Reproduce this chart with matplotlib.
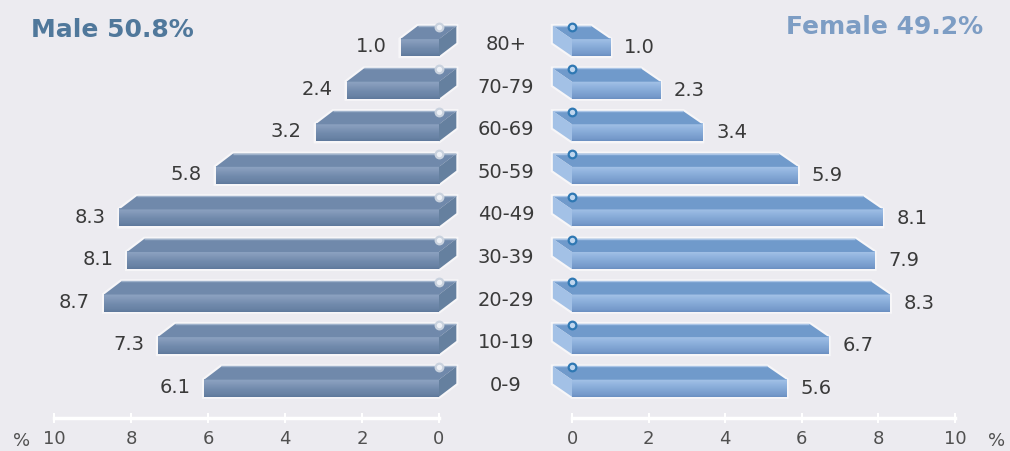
import matplotlib
matplotlib.use("Agg")
import matplotlib.pyplot as plt
import numpy as np
from matplotlib.patches import Polygon
from matplotlib.colors import LinearSegmentedColormap

# Population by age group, percent of total
age_groups = ["0-9", "10-19", "20-29", "30-39", "40-49", "50-59", "60-69", "70-79", "80+"]
male = [6.1, 7.3, 8.7, 8.1, 8.3, 5.8, 3.2, 2.4, 1.0]
female = [5.6, 6.7, 8.3, 7.9, 8.1, 5.9, 3.4, 2.3, 1.0]
ticks = [0, 2, 4, 6, 8, 10]
male_title = "Male 50.8%"
female_title = "Female 49.2%"

W, H = 1010, 451
BG = "#ECEBF0"
TXT = "#3a3a3a"

fig = plt.figure(figsize=(W / 100, H / 100), dpi=100, facecolor=BG)

y_lo, y_hi = -0.72, 8.5
ax_bottom = (H - 418) / H
ax_height = (418 - 25.5) / H
axL = fig.add_axes([54 / W, ax_bottom, 385 / W, ax_height])
axR = fig.add_axes([572 / W, ax_bottom, 383 / W, ax_height])

male_cmap = LinearSegmentedColormap.from_list(
    "male", [(0.0, "#8EA4C2"), (0.25, "#8399B9"), (0.55, "#728BAD"),
             (0.85, "#6882A4"), (1.0, "#5E789B")])
female_cmap = LinearSegmentedColormap.from_list(
    "female", [(0.0, "#A5C3E8"), (0.28, "#93B5DF"), (0.6, "#82A6D4"),
               (0.88, "#7599CA"), (1.0, "#6A8FC1")])
grad = np.linspace(0, 1, 64).reshape(-1, 1)

FRONT_LO, FRONT_HI, DEPTH_Y = -0.22, 0.18, 0.31


def draw_side(ax, values, dx, cmap, top_col, top_edge, side_col,
              ring_edge, ring_face):
    for i, v in enumerate(values):
        y0 = i + FRONT_LO
        y1 = i + FRONT_HI
        y2 = y1 + DEPTH_Y
        # soft white halo around the block
        halo = Polygon([(v, y0), (0, y0), (dx, y0 + DEPTH_Y), (dx, y2),
                        (v + dx, y2), (v, y1)], closed=True,
                       facecolor="none", edgecolor="white", lw=3.0,
                       alpha=0.6, zorder=2, clip_on=False)
        ax.add_patch(halo)
        # front face with a vertical shading
        ax.imshow(grad, extent=(0, v, y0, y1), aspect="auto", cmap=cmap,
                  origin="upper", zorder=3, interpolation="bilinear",
                  clip_on=False)
        # top face
        ax.add_patch(Polygon([(v, y1), (0, y1), (dx, y2), (v + dx, y2)],
                             closed=True, facecolor=top_col, edgecolor="none",
                             zorder=3, clip_on=False))
        ax.plot([v + dx, dx], [y2, y2], color=top_edge, lw=1.0, zorder=4,
                clip_on=False, solid_capstyle="butt")
        # end face at the zero line
        ax.add_patch(Polygon([(0, y0), (0, y1), (dx, y2), (dx, y0 + DEPTH_Y)],
                             closed=True, facecolor=side_col, edgecolor="none",
                             zorder=3, clip_on=False))
        # small ring on the back edge
        ax.plot([0], [y2 - 0.02], marker="o", ms=5.5, mew=1.6,
                mec=ring_edge, mfc=ring_face, zorder=5, clip_on=False)


draw_side(axL, male, -0.45, male_cmap, "#7089AB", "#9FB2CB", "#65809F",
          "#C9D2DE", "#EEF1F6")
draw_side(axR, female, -0.50, female_cmap, "#709ACB", "#A9C4E6", "#A3C1E6",
          "#2F78B3", "#BFD6EE")

for ax, lim in ((axL, (10, 0)), (axR, (0, 10))):
    ax.set_xlim(*lim)
    ax.set_ylim(y_lo, y_hi)
    ax.set_facecolor("none")
    for s in ("top", "left", "right"):
        ax.spines[s].set_visible(False)
    ax.spines["bottom"].set_color("white")
    ax.spines["bottom"].set_linewidth(2.5)
    ax.set_yticks([])
    ax.set_xticks(ticks)
    ax.set_xticklabels([str(t) for t in ticks])
    ax.tick_params(axis="x", direction="inout", length=7, width=1.5,
                   color="white", labelcolor="#505050", labelsize=13, pad=5)

# value labels
for i, v in enumerate(male):
    axL.annotate(f"{v:.1f}", (v, i), xytext=(-14, 0),
                 textcoords="offset pixels", ha="right", va="center",
                 fontsize=14, color=TXT, annotation_clip=False)
for i, v in enumerate(female):
    axR.annotate(f"{v:.1f}", (v, i), xytext=(14, -1),
                 textcoords="offset pixels", ha="left", va="center",
                 fontsize=14, color=TXT, annotation_clip=False)

# age group labels in the gap between the two halves
for i, g in enumerate(age_groups):
    axL.annotate(g, (0, i + 0.05), xytext=(67, 0), textcoords="offset pixels",
                 ha="center", va="center", fontsize=14, color=TXT,
                 annotation_clip=False)

fig.text(22 / W, 1 - 441 / H, "%", ha="center", va="center", fontsize=13,
         color="#505050")
fig.text(997 / W, 1 - 441 / H, "%", ha="center", va="center", fontsize=13,
         color="#505050")

fig.text(31 / W, 1 - 30 / H, male_title, ha="left", va="center", fontsize=18,
         fontweight="bold", color="#50789B")
fig.text(983 / W, 1 - 27 / H, female_title, ha="right", va="center",
         fontsize=18, fontweight="bold", color="#7D9DC4")

fig.savefig("out.png", dpi=100, facecolor=BG)
